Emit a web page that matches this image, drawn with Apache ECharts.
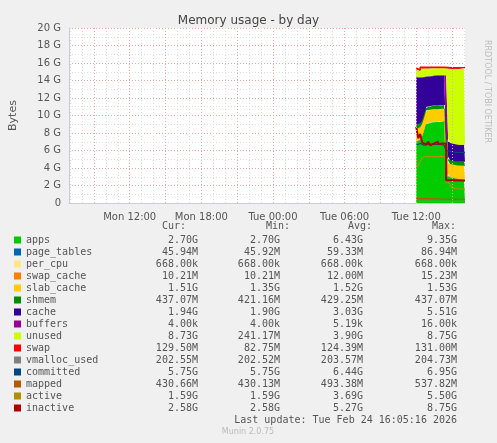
<!DOCTYPE html>
<html><head><meta charset="utf-8">
<script src="https://cdn.jsdelivr.net/npm/echarts@6/dist/echarts.min.js"></script>
<style>html,body{margin:0;padding:0;background:#F0F0F0}#c{width:497px;height:443px}</style>
</head><body><div id="c"></div>
<script>
// sample times (Tue)
const sampleTimes = ["Tue 12:00","Tue 12:10","Tue 12:20","Tue 12:30","Tue 12:40","Tue 12:50","Tue 13:00","Tue 13:10","Tue 13:20","Tue 13:30","Tue 13:40","Tue 13:50","Tue 14:00","Tue 14:10","Tue 14:20","Tue 14:30","Tue 14:40","Tue 14:50","Tue 15:00","Tue 15:10","Tue 15:20","Tue 15:30","Tue 15:40","Tue 15:50","Tue 16:00","Tue 16:05"];
// values in G
const apps        = [7.0,7.2,7.6,8.3,8.9,9.1,9.2,9.2,9.2,9.25,9.2,9.25,9.3,9.3,9.35, 3.3,3.0,2.9,2.85,2.8,2.75,2.72,2.7,2.7,2.7,2.7];
const page_tables = [0.05,0.05,0.05,0.05,0.05,0.05,0.05,0.05,0.05,0.05,0.05,0.05,0.05,0.05,0.05,0.046,0.046,0.046,0.046,0.046,0.046,0.046,0.046,0.046,0.046,0.046];
const per_cpu     = [0.0007,0.0007,0.0007,0.0007,0.0007,0.0007,0.0007,0.0007,0.0007,0.0007,0.0007,0.0007,0.0007,0.0007,0.0007,0.0007,0.0007,0.0007,0.0007,0.0007,0.0007,0.0007,0.0007,0.0007,0.0007,0.0007];
const swap_cache  = [0.012,0.012,0.012,0.012,0.012,0.012,0.012,0.012,0.012,0.012,0.012,0.012,0.012,0.012,0.012,0.01,0.01,0.01,0.01,0.01,0.01,0.01,0.01,0.01,0.01,0.01];
const slab_cache  = [1.4,1.4,1.4,1.4,1.4,1.4,1.4,1.4,1.4,1.4,1.4,1.4,1.4,1.4,1.4,1.5,1.5,1.51,1.51,1.51,1.51,1.51,1.51,1.51,1.51,1.51];
const shmem       = [0.42,0.42,0.42,0.42,0.42,0.42,0.42,0.42,0.43,0.43,0.43,0.43,0.43,0.43,0.43,0.437,0.437,0.437,0.437,0.437,0.437,0.437,0.437,0.437,0.437,0.437];
const cache       = [5.5,5.3,4.9,4.2,3.7,3.5,3.45,3.4,3.5,3.45,3.5,3.45,3.4,3.4,3.35, 2.2,2.0,1.95,1.95,1.94,1.94,1.94,1.94,1.94,1.94,1.94];
const buffers     = [0.00001,0.00001,0.00001,0.00001,0.00001,0.00001,0.00001,0.00001,0.00001,0.00001,0.00001,0.00001,0.00001,0.00001,0.00001,0.000004,0.000004,0.000004,0.000004,0.000004,0.000004,0.000004,0.000004,0.000004,0.000004,0.000004];
const unused      = [0.9,0.7,1.0,1.0,0.9,0.9,0.85,0.9,0.8,0.8,0.8,0.8,0.8,0.8,0.8, 7.87,8.37,8.47,8.52,8.59,8.64,8.67,8.69,8.70,8.72,8.73];
const swap        = [0.13,0.13,0.13,0.13,0.13,0.13,0.13,0.13,0.13,0.13,0.13,0.13,0.13,0.13,0.13,0.13,0.13,0.13,0.13,0.13,0.13,0.13,0.13,0.13,0.13,0.13];
const vmalloc_used= [0.2,0.2,0.2,0.2,0.2,0.2,0.2,0.2,0.2,0.2,0.2,0.2,0.2,0.2,0.2,0.2,0.2,0.2,0.2,0.2,0.2,0.2,0.2,0.2,0.2,0.2];
const committed   = [6.6,6.8,6.7,6.6,6.7,6.7,6.6,6.7,6.6,6.7,6.6,6.7,6.7,6.6,6.6, 6.0,5.9,5.85,5.8,5.8,5.78,5.76,5.75,5.75,5.75,5.75];
const mapped      = [0.5,0.5,0.54,0.5,0.5,0.5,0.48,0.48,0.47,0.47,0.46,0.46,0.45,0.45,0.45, 0.43,0.43,0.43,0.43,0.43,0.43,0.43,0.43,0.43,0.43,0.43];
const active      = [4.0,4.3,4.8,5.2,5.3,5.3,5.3,5.3,5.3,5.3,5.3,5.3,5.3,5.3,5.3, 2.4,2.2,1.9,1.7,1.65,1.6,1.6,1.59,1.59,1.59,1.59];
const inactive    = [8.7,7.4,7.9,6.9,6.7,6.6,7.0,6.6,6.8,6.7,7.0,6.7,6.8,6.9,6.8, 2.6,2.6,2.6,2.59,2.59,2.58,2.58,2.58,2.58,2.58,2.58];

const names = ["apps","page_tables","per_cpu","swap_cache","slab_cache","shmem","cache","buffers","unused","swap","vmalloc_used","committed","mapped","active","inactive"];
const colors = ["#00CC00","#0066B3","#FFE680","#FF8000","#FFCC00","#008F00","#330099","#990099","#CCFF00","#FF0000","#808080","#00487D","#B35A00","#B38F00","#B30000"];
const curVals = ["2.70G","45.94M","668.00k","10.21M","1.51G","437.07M","1.94G","4.00k","8.73G","129.50M","202.55M","5.75G","430.66M","1.59G","2.58G"];
const minVals = ["2.70G","45.92M","668.00k","10.21M","1.35G","421.16M","1.90G","4.00k","241.17M","82.75M","202.52M","5.75G","430.13M","1.59G","2.58G"];
const avgVals = ["6.43G","59.33M","668.00k","12.00M","1.52G","429.25M","3.03G","5.19k","3.90G","124.39M","203.57M","6.44G","493.38M","3.69G","5.27G"];
const maxVals = ["9.35G","86.94M","668.00k","15.23M","1.53G","437.07M","5.51G","16.00k","8.75G","131.00M","204.73M","6.95G","537.82M","5.50G","8.75G"];
const yTicks = ["0","2 G","4 G","6 G","8 G","10 G","12 G","14 G","16 G","18 G","20 G"];

const seriesData = [apps,page_tables,per_cpu,swap_cache,slab_cache,shmem,cache,buffers,unused,swap,vmalloc_used,committed,mapped,active,inactive];

// categories every 5 minutes from Mon 06:55 to Tue 16:05
const cats = [];
for (let m = 415; m <= 2405; m += 5) {
  const d = m < 1440 ? "Mon" : "Tue";
  const mm = m % 1440;
  cats.push(d + " " + String(Math.floor(mm/60)).padStart(2,"0") + ":" + String(mm%60).padStart(2,"0"));
}
const minOf = i => (415 + i*5) % 1440;
const idxOf = t => cats.indexOf(t);

const series = seriesData.map((arr, k) => {
  const isArea = k <= 9;
  return {
    name: names[k], type: 'line', xAxisIndex: 0, step: 'end', symbol: 'none',
    stack: isArea ? 'mem' : undefined,
    data: sampleTimes.map((t, i) => [idxOf(t), arr[i]]),
    lineStyle: { width: isArea ? (k===9 ? 1.5 : 0) : (k===14 ? 2 : 1.2), color: colors[k] },
    areaStyle: isArea ? { color: colors[k], opacity: 1 } : undefined,
    itemStyle: { color: colors[k] },
    z: isArea ? 2 : 3
  };
});

const graphic = [];
const top0 = 240, step = 12;
const mono = "'DejaVu Sans Mono', monospace";
const hdr = [["Cur:",186],["Min:",290],["Avg:",372],["Max:",456]];
hdr.forEach(h => graphic.push({type:'text', x:h[1], y:226, style:{text:h[0], font:"10px "+mono, fill:'#555', align:'right', verticalAlign:'middle'}}));
names.forEach((n, i) => {
  const y = top0 + i*step;
  graphic.push({type:'rect', shape:{x:14, y:y-3.5, width:7, height:7}, style:{fill:colors[i]}});
  graphic.push({type:'text', x:26, y:y, style:{text:n, font:"10px "+mono, fill:'#555', verticalAlign:'middle'}});
  [[curVals,198],[minVals,280],[avgVals,363],[maxVals,457]].forEach(c =>
    graphic.push({type:'text', x:c[1], y:y, style:{text:c[0][i], font:"10px "+mono, fill:'#555', align:'right', verticalAlign:'middle'}}));
});
graphic.push({type:'text', x:457, y:420, style:{text:"Last update: Tue Feb 24 16:05:16 2026", font:"10px "+mono, fill:'#555', align:'right', verticalAlign:'middle'}});
graphic.push({type:'text', x:248, y:432, style:{text:"Munin 2.0.75", font:"8px 'DejaVu Sans'", fill:'#bbb', align:'center', verticalAlign:'middle'}});
graphic.push({type:'text', x:487, y:40, rotation:-Math.PI/2, style:{text:"RRDTOOL / TOBI OETIKER", font:"8px 'DejaVu Sans'", fill:'#bbb', verticalAlign:'middle'}});

const chart = echarts.init(document.getElementById('c'));
chart.setOption({
  animation: false,
  backgroundColor: '#F0F0F0',
  title: { text: 'Memory usage - by day', left: 'center', top: 10, textStyle: { fontFamily: 'DejaVu Sans', fontSize: 12, fontWeight: 'normal', color: '#444' } },
  grid: { left: 67, right: 32, top: 28, bottom: 240, backgroundColor: '#fff', show: true, borderWidth: 0 },
  xAxis: [{
    type: 'category', data: cats, boundaryGap: false,
    axisLine: { lineStyle: { color: '#ccd' } },
    axisTick: { show: false },
    axisLabel: { interval: (i) => minOf(i) % 360 === 0, color: '#555', fontFamily: 'DejaVu Sans', fontSize: 10, margin: 9 },
    splitLine: { show: true, interval: (i) => minOf(i) % 180 === 0 && i > 0, lineStyle: { color: '#E8A8A8', type: [1,2], width: 1 } },
    z: 5
  },{
    type: 'category', data: cats, boundaryGap: false, position: 'bottom',
    axisLine: { show: false }, axisTick: { show: false }, axisLabel: { show: false },
    splitLine: { show: true, interval: (i) => minOf(i) % 60 === 0 && minOf(i) % 180 !== 0, lineStyle: { color: '#ddd', type: [1,2], width: 1 } }
  }],
  yAxis: {
    type: 'value', min: 0, max: 20, interval: 2,
    name: 'Bytes', nameLocation: 'middle', nameGap: 50, nameRotate: 90,
    nameTextStyle: { color: '#555', fontFamily: 'DejaVu Sans', fontSize: 11 },
    axisLine: { show: true, lineStyle: { color: '#ccd' } },
    axisTick: { show: false },
    axisLabel: { color: '#555', fontFamily: 'DejaVu Sans', fontSize: 10, formatter: v => yTicks[Math.round(v/2)] },
    splitLine: { lineStyle: { color: '#E8A8A8', type: [1,2] } },
    minorTick: { show: false, splitNumber: 2 },
    minorSplitLine: { show: true, lineStyle: { color: '#ddd', type: [1,2] } }
  },
  series: series,
  graphic: graphic
});
</script></body></html>
